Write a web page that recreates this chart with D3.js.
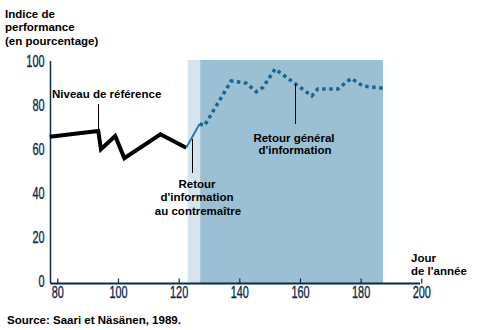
<!DOCTYPE html>
<html><head><meta charset="utf-8">
<script src="https://cdn.jsdelivr.net/npm/d3@7"></script>
<style>
body{margin:0;background:#fff;}
svg{display:block;}
.lbl{font-family:"Liberation Sans",Arial,sans-serif;font-weight:bold;font-size:11.5px;fill:#000;}
.tick text{font-family:"Liberation Sans",Arial,sans-serif;font-size:16px;fill:#0a2a4a;stroke:#0a2a4a;stroke-width:0.35px;}
</style></head><body>
<svg id="c" width="485" height="330"></svg>
<script>
// data
const baselineDays = [77.5, 93.5, 94.4, 99.1, 102.1, 114, 122.5];
const baselineVals = [65.6, 68.2, 59.9, 65.9, 55.8, 66.7, 60.6];
const foremanDays = [122.5, 126.9];
const foremanVals = [60.6, 71.4];
const generalDays = [126.9, 128.5, 137.3, 142.3, 145.6, 147.8, 151.8, 158, 163.9, 165.9, 172.5, 176.9, 180.8, 187.4];
const generalVals = [71.4, 70.6, 90.9, 89.9, 86, 88, 96.4, 90.1, 84.1, 87.3, 87.3, 92.1, 88.6, 87.6];
const xTicks = [80, 100, 120, 140, 160, 180, 200];
const yTicks = [0, 20, 40, 60, 80, 100];
const phaseForeman = [123, 127.1];
const phaseGeneral = [127.1, 187.4];

const svg = d3.select("#c");
const x = d3.scaleLinear().domain([80, 200]).range([57.3, 421.3]);
const y = d3.scaleLinear().domain([0, 100]).range([281, 61]);
const axisY = 283.5, axisX = 50.5;
const sx = 0.68;

// shaded phases
svg.append("rect").attr("x", x(phaseForeman[0])).attr("y", 60)
  .attr("width", x(phaseForeman[1]) - x(phaseForeman[0])).attr("height", axisY - 60)
  .attr("fill", "#d5e4ed");
svg.append("rect").attr("x", x(phaseGeneral[0])).attr("y", 60)
  .attr("width", x(phaseGeneral[1]) - x(phaseGeneral[0])).attr("height", axisY - 60)
  .attr("fill", "#9bc0d4");

// axes
const xAxis = d3.axisBottom(x).tickValues(xTicks).tickSize(0).tickPadding(3).tickFormat(d3.format("d"));
const gx = svg.append("g").attr("transform", `translate(0,${axisY})`).call(xAxis);
gx.select(".domain").remove();
gx.selectAll(".tick text").attr("transform", `scale(${sx},1)`);
gx.selectAll(".tick").append("line").attr("y1", 0).attr("y2", -5).attr("stroke", "#0a2a4a").attr("stroke-width", 1.2);
svg.append("line").attr("x1", axisX).attr("x2", 420).attr("y1", axisY).attr("y2", axisY)
  .attr("stroke", "#0a2a4a").attr("stroke-width", 2);

const yAxis = d3.axisLeft(y).tickValues(yTicks).tickSize(0).tickPadding(0).tickFormat(d3.format("d"));
const gy = svg.append("g").attr("transform", `translate(${axisX},0)`).call(yAxis);
gy.select(".domain").remove();
gy.selectAll(".tick text").attr("x", -6 / sx).attr("transform", `scale(${sx},1)`);
svg.append("line").attr("x1", axisX).attr("x2", axisX).attr("y1", 61).attr("y2", axisY)
  .attr("stroke", "#0a2a4a").attr("stroke-width", 1.5);

const line = d3.line().x(d => x(d[0])).y(d => y(d[1]));
const zip = (a, b) => a.map((v, i) => [v, b[i]]);

svg.append("path").datum(zip(baselineDays, baselineVals)).attr("d", line)
  .attr("fill", "none").attr("stroke", "#000").attr("stroke-width", 4).attr("stroke-linejoin", "miter");
svg.append("path").datum(zip(foremanDays, foremanVals)).attr("d", line)
  .attr("fill", "none").attr("stroke", "#2e78a6").attr("stroke-width", 2);
svg.append("path").datum(zip(generalDays, generalVals)).attr("d", line)
  .attr("fill", "none").attr("stroke", "#1a6592").attr("stroke-width", 3.5).attr("stroke-dasharray", "3.5,3.5");

// leader lines
const leader = (x1, y1, y2) => svg.append("line").attr("x1", x1).attr("x2", x1).attr("y1", y1).attr("y2", y2)
  .attr("stroke", "#000").attr("stroke-width", 1);
leader(98.5, 104, 130);
leader(192.5, 139, 173);
leader(295.5, 84, 124);

// labels
const txt = (t, xx, yy, anchor) => svg.append("text").attr("class", "lbl").attr("x", xx).attr("y", yy)
  .attr("text-anchor", anchor || "start").text(t);
txt("Indice de", 5, 18);
txt("performance", 5, 31);
txt("(en pourcentage)", 5, 45);
txt("Niveau de référence", 52, 98);
txt("Retour", 197, 188, "middle");
txt("d'information", 197, 201, "middle");
txt("au contremaître", 198, 215, "middle");
txt("Retour général", 294, 142, "middle");
txt("d'information", 295, 154, "middle");
txt("Jour", 411, 262);
txt("de l'année", 411, 275);
txt("Source: Saari et Näsänen, 1989.", 7, 324);
</script>
</body></html>
